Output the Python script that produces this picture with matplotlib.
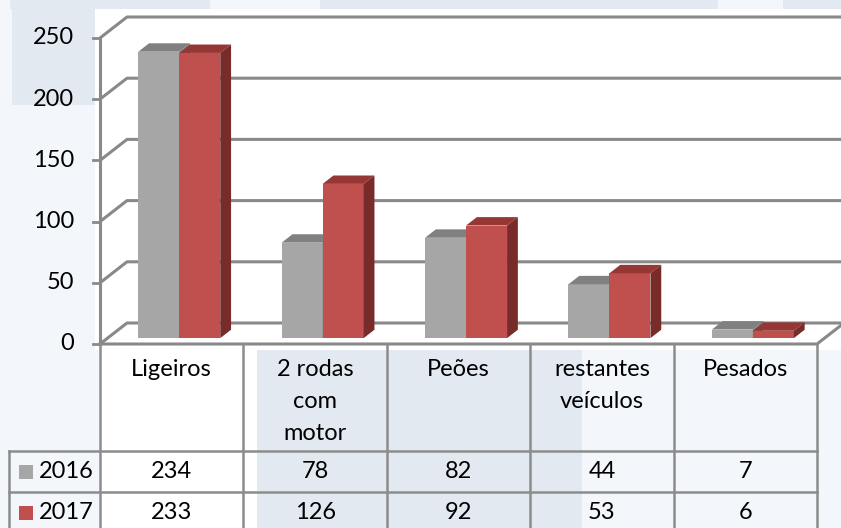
import matplotlib
matplotlib.use("Agg")
import matplotlib.pyplot as plt
from matplotlib.patches import Polygon, Rectangle

# ---- data ----
categories = ["Ligeiros", "2 rodas\ncom\nmotor", "Peões", "restantes\nveículos", "Pesados"]
series_names = ["2016", "2017"]
values_2016 = [234, 78, 82, 44, 7]
values_2017 = [233, 126, 92, 53, 6]
y_ticks = [0, 50, 100, 150, 200, 250]

# ---- styling ----
FRONT = ["#a6a6a6", "#c0504d"]
TOP = ["#808080", "#953735"]
SIDE = ["#7a7a7a", "#772c2a"]
GRID = "#898989"
FONT = ["Lato", "DejaVu Sans"]
FS = 17

W, H = 841, 528
fig = plt.figure(figsize=(W / 100, H / 100), dpi=100)
fig.patch.set_facecolor("#f3f6fa")
ax = fig.add_axes([0, 0, 1, 1])
SX = 143.4          # pixels per category
SY = 1.224          # pixels per value unit
X0 = -0.5 - 100 / SX
Y_BASE_PX = 344
ax.set_xlim(X0, X0 + W / SX)
ax.set_ylim((Y_BASE_PX - H) / SY, Y_BASE_PX / SY)
ax.axis("off")


def px(xp):
    return X0 + xp / SX


def py(yp):
    return (Y_BASE_PX - yp) / SY


XMAX = X0 + W / SX
DX = 27 / SX
DY = 21 / SY

# ---- background patches (watermark approximation) ----
def rect(x0p, y0p, x1p, y1p, color, z=0):
    ax.add_patch(Rectangle((px(x0p), py(y1p)), px(x1p) - px(x0p), py(y0p) - py(y1p),
                           facecolor=color, edgecolor="none", zorder=z))

BLUE = "#e3e9f0"
rect(12, 0, 95, 105, BLUE)
rect(10, 0, 210, 9, BLUE)
rect(320, 0, 718, 9, BLUE)
rect(783, 0, 841, 9, BLUE)
rect(95, 9, 841, 350, "white")
rect(100, 344, 257, 528, "white")
rect(257, 350, 582, 528, BLUE)
rect(582, 350, 817, 528, "#f3f6fb")

# ---- walls / gridlines ----
n = len(categories)
left = -0.5
right = n - 0.5
for v in y_ticks:
    ax.plot([left, left + DX, XMAX + 1], [v, v + DY, v + DY], color=GRID, lw=2.2,
            solid_capstyle="butt", zorder=1, clip_on=False)
    ax.plot([left - 7 / SX, left], [v, v], color=GRID, lw=2, zorder=1)
    ax.text(px(74), v, str(v), ha="right", va="center", fontsize=FS, family=FONT, zorder=4)
ax.plot([left, left], [0, max(y_ticks)], color=GRID, lw=2.2, zorder=1)
ax.plot([left, right, right + DX], [0, 0, DY], color=GRID, lw=2.2, zorder=1)

# ---- 3D bars ----
BW = 41 / SX
F0 = 0.28
BD = 0.40
ox, oy = F0 * DX, F0 * DY
ddx, ddy = BD * DX, BD * DY
for i in range(n):
    for s, vals in enumerate([values_2016, values_2017]):
        h = vals[i]
        x = i + ox - BW + s * BW
        b = oy
        t = oy + h
        ax.add_patch(Polygon([(x, b), (x + BW, b), (x + BW, t), (x, t)], closed=True,
                             facecolor=FRONT[s], edgecolor="none", zorder=2))
        ax.add_patch(Polygon([(x, t), (x + BW, t), (x + BW + ddx, t + ddy), (x + ddx, t + ddy)],
                             closed=True, facecolor=TOP[s], edgecolor="none", zorder=2))
        ax.add_patch(Polygon([(x + BW, b), (x + BW, t), (x + BW + ddx, t + ddy), (x + BW + ddx, b + ddy)],
                             closed=True, facecolor=SIDE[s], edgecolor="none", zorder=2))

# ---- data table ----
TL = "#8c8c8c"
row1 = py(451)
row2 = py(492)
row3 = py(533)
table_left = px(9)
for k in range(n + 1):
    xv = k - 0.5
    ax.plot([xv, xv], [0, row3], color=TL, lw=1.8, zorder=3, clip_on=False)
ax.plot([table_left, table_left], [row1, row3], color=TL, lw=1.8, zorder=3, clip_on=False)
for yv in (row1, row2):
    ax.plot([table_left, right], [yv, yv], color=TL, lw=1.8, zorder=3)

line_h = 32 / SY
for i, lab in enumerate(categories):
    for j, ln in enumerate(lab.split("\n")):
        ax.text(i, py(370) - j * line_h, ln, ha="center", va="center",
                fontsize=FS, family=FONT, zorder=4)

for s, (name, vals) in enumerate(zip(series_names, [values_2016, values_2017])):
    yc = (row1 + row2) / 2 if s == 0 else (row2 + row3) / 2
    sq = 14
    ax.add_patch(Rectangle((px(19), yc - sq / 2 / SY), sq / SX, sq / SY,
                           facecolor=FRONT[s], edgecolor="none", zorder=4))
    ax.text(px(39), yc, name, ha="left", va="center", fontsize=FS, family=FONT, zorder=4)
    for i, v in enumerate(vals):
        ax.text(i, yc, str(v), ha="center", va="center", fontsize=FS, family=FONT, zorder=4)

fig.savefig("out.png", dpi=100, facecolor=fig.get_facecolor())
